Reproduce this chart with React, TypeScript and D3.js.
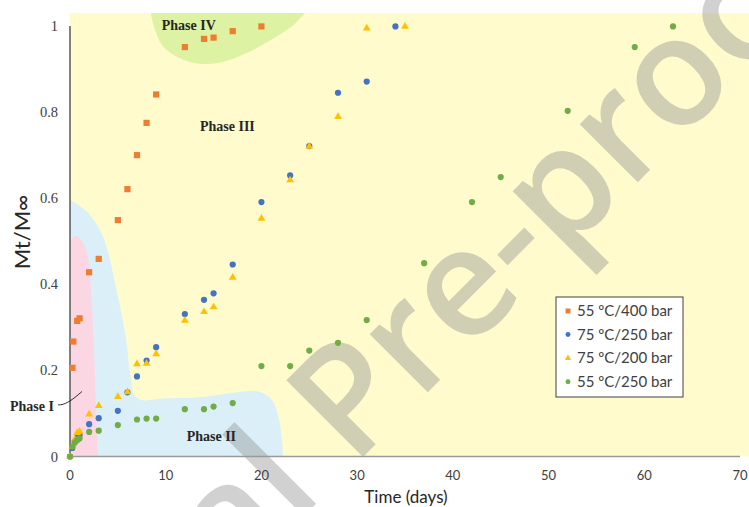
import React from "react";
import * as d3 from "d3";

// Release curves: fraction released (Mt/M∞) against time in days
const days400_55 = [0.25, 0.35, 0.75, 1, 2, 3, 5, 6, 7, 8, 9, 12, 14, 15, 17, 20];
const vals400_55 = [0.206, 0.267, 0.315, 0.321, 0.428, 0.459, 0.549, 0.621, 0.7, 0.775, 0.841, 0.951, 0.97, 0.973, 0.988, 0.999];

const days250_75 = [0, 0.25, 0.5, 0.75, 1, 2, 3, 5, 6, 7, 8, 9, 12, 14, 15, 17, 20, 23, 25, 28, 31, 34];
const vals250_75 = [0, 0.02, 0.035, 0.045, 0.05, 0.075, 0.089, 0.106, 0.149, 0.186, 0.223, 0.254, 0.331, 0.364, 0.379, 0.446, 0.591, 0.653, 0.721, 0.845, 0.871, 0.999];

const days200_75 = [0, 0.25, 0.5, 0.75, 1, 2, 3, 5, 6, 7, 8, 9, 12, 14, 15, 17, 20, 23, 25, 28, 31, 35];
const vals200_75 = [0, 0.023, 0.04, 0.055, 0.058, 0.098, 0.118, 0.139, 0.15, 0.215, 0.216, 0.238, 0.316, 0.336, 0.347, 0.416, 0.553, 0.642, 0.72, 0.789, 0.995, 0.999];

const days250_55 = [0, 0.25, 0.5, 0.75, 1, 2, 3, 5, 7, 8, 9, 12, 14, 15, 17, 20, 23, 25, 28, 31, 37, 42, 45, 52, 59, 63];
const vals250_55 = [0, 0.023, 0.032, 0.038, 0.042, 0.057, 0.06, 0.073, 0.086, 0.088, 0.088, 0.11, 0.11, 0.116, 0.124, 0.21, 0.21, 0.246, 0.264, 0.317, 0.449, 0.591, 0.649, 0.803, 0.951, 0.999];

const seriesNames = ["55 ºC/400 bar", "75 ºC/250 bar", "75 ºC/200 bar", "55 ºC/250 bar"];

const xTicks = [0, 10, 20, 30, 40, 50, 60, 70];
const yTicks = [0, 0.2, 0.4, 0.6, 0.8, 1];

// Outlines of the release phases, in (days, fraction) units
const phaseIEdge: [number, number][] = [
  [0, 0.503], [0.63, 0.512], [1.36, 0.496], [1.88, 0.461], [2.19, 0.387],
  [2.51, 0.247], [2.72, 0.108], [2.93, 0],
];
const phaseIIEdge: [number, number][] = [
  [0, 0.596], [1.57, 0.573], [3.13, 0.526], [3.97, 0.475], [4.7, 0.403],
  [5.75, 0.287], [6.37, 0.178], [6.69, 0.143], [7.52, 0.131], [9.4, 0.134],
  [13.58, 0.138], [17.76, 0.15], [19.85, 0.15], [21.11, 0.131], [21.84, 0.085],
  [22.15, 0.038], [22.25, 0],
];
const phaseIVEdge: [number, number][] = [
  [8.43, 1.03], [8.88, 0.991], [9.75, 0.952], [11.49, 0.925], [13.58, 0.912],
  [16.02, 0.917], [18.46, 0.937], [21.24, 0.971], [23.33, 1.002], [24.55, 1.03],
];
const phaseLabels: { text: string; at: [number, number] }[] = [
  { text: "Phase IV", at: [9.58, 0.991] },
  { text: "Phase III", at: [13.58, 0.756] },
  { text: "Phase II", at: [12.19, 0.036] },
  { text: "Phase I", at: [-6.27, 0.106] },
];
const phaseILeader: [number, number][] = [[-1.25, 0.12], [-0.73, 0.12], [0.21, 0.131], [1.25, 0.151]];

const W = 749;
const H = 507;

const x = d3.scaleLinear().domain([0, 70]).range([70, 740]);
const y = d3.scaleLinear().domain([0, 1]).range([456.5, 26]);

const edge = d3
  .line<[number, number]>()
  .x((d) => x(d[0]))
  .y((d) => y(d[1]))
  .curve(d3.curveCatmullRom.alpha(0.5));

const COLORS = ["#ED7D31", "#4472C4", "#FFC000", "#70AD47"];

type Shape = "square" | "circle" | "triangle";

function Marker({ shape, cx, cy, color, scale = 1 }: { shape: Shape; cx: number; cy: number; color: string; scale?: number }) {
  if (shape === "square") {
    const s = 6.2 * scale;
    return <rect x={cx - s / 2} y={cy - s / 2} width={s} height={s} fill={color} />;
  }
  if (shape === "circle") {
    return <circle cx={cx} cy={cy} r={3.1 * scale} fill={color} />;
  }
  const p = d3.symbol(d3.symbolTriangle, 26 * scale * scale)() as string;
  return <path d={p} transform={`translate(${cx},${cy})`} fill={color} />;
}

const series: { days: number[]; vals: number[]; shape: Shape }[] = [
  { days: days400_55, vals: vals400_55, shape: "square" },
  { days: days250_75, vals: vals250_75, shape: "circle" },
  { days: days200_75, vals: vals200_75, shape: "triangle" },
  { days: days250_55, vals: vals250_55, shape: "circle" },
];

export default function App() {
  const x0 = x(0);
  const y0 = y(0);
  const top = y(1.03);
  const wmSize = 152;

  return (
    <svg
      width={W}
      height={H}
      viewBox={`0 0 ${W} ${H}`}
      style={{ position: "absolute", left: 0, top: 0, background: "#ffffff" }}
    >
      {/* plot area */}
      <rect x={x0} y={top} width={x(72) - x0} height={y0 - top} fill="#FFFBCC" />

      {/* phase regions */}
      <path d={`${edge(phaseIIEdge)}L${x0},${y0}Z`} fill="#DAEFF8" />
      <path d={`${edge(phaseIEdge)}L${x0},${y0}Z`} fill="#FBD7E4" />
      <path d={`${edge(phaseIVEdge)}Z`} fill="#DDF2A3" />

      {/* watermark */}
      <g
        transform="translate(353,467) rotate(-45)"
        fill="#8f8f8f"
        opacity={0.4}
        fontFamily="'Open Sans', sans-serif"
        fontWeight={600}
        fontSize={wmSize}
      >
        <text x={0} y={0}>Pre-proof</text>
        <text x={-0.26 * wmSize} y={0} textAnchor="end">Journal</text>
      </g>

      {/* axes */}
      <line x1={x0} x2={x(70)} y1={y0} y2={y0} stroke="#9a9a9a" strokeWidth={1.3} />
      <line x1={x0} x2={x0} y1={y(1)} y2={y0} stroke="#595959" strokeWidth={1.5} />

      {yTicks.map((t) => (
        <text
          key={`y${t}`}
          x={58}
          y={y(t)}
          dy="0.35em"
          textAnchor="end"
          fontFamily="'Liberation Serif', serif"
          fontSize={14.5}
          fill="#404040"
        >
          {d3.format("~g")(t)}
        </text>
      ))}
      {xTicks.map((t) => (
        <text
          key={`x${t}`}
          x={x(t)}
          y={480}
          textAnchor="middle"
          fontFamily="Lato, sans-serif"
          fontSize={13}
          fill="#404040"
        >
          {t}
        </text>
      ))}

      <text
        transform={`translate(30,${232}) rotate(-90)`}
        textAnchor="middle"
        fontFamily="Lato, sans-serif"
        fontSize={22}
        fill="#262626"
      >
        Mt/M∞
      </text>
      <text x={406} y={503} textAnchor="middle" fontFamily="Lato, sans-serif" fontSize={17} fill="#262626">
        Time (days)
      </text>

      {/* phase labels */}
      {phaseLabels.map((l) => (
        <text
          key={l.text}
          x={x(l.at[0])}
          y={y(l.at[1])}
          fontFamily="'Liberation Serif', serif"
          fontWeight="bold"
          fontSize={14}
          fill="#262626"
        >
          {l.text}
        </text>
      ))}
      <path
        d={d3.line<[number, number]>().x((d) => x(d[0])).y((d) => y(d[1])).curve(d3.curveBasis)(phaseILeader) as string}
        fill="none"
        stroke="#262626"
        strokeWidth={1}
      />

      {/* data */}
      {series.map((s, i) =>
        s.days.map((d, j) => (
          <Marker key={`${i}-${j}`} shape={s.shape} cx={x(d)} cy={y(s.vals[j])} color={COLORS[i]} />
        ))
      )}

      {/* legend */}
      <g>
        <rect x={556} y={297} width={127} height={100} fill="#ffffff" stroke="#404040" strokeWidth={1} />
        {seriesNames.map((name, i) => {
          const ly = 311 + i * 23.6;
          return (
            <g key={name}>
              <Marker shape={series[i].shape} cx={568} cy={ly} color={COLORS[i]} scale={0.8} />
              <text x={577} y={ly} dy="0.35em" fontFamily="Lato, sans-serif" fontSize={15} fill="#404040">
                {name}
              </text>
            </g>
          );
        })}
      </g>
    </svg>
  );
}
